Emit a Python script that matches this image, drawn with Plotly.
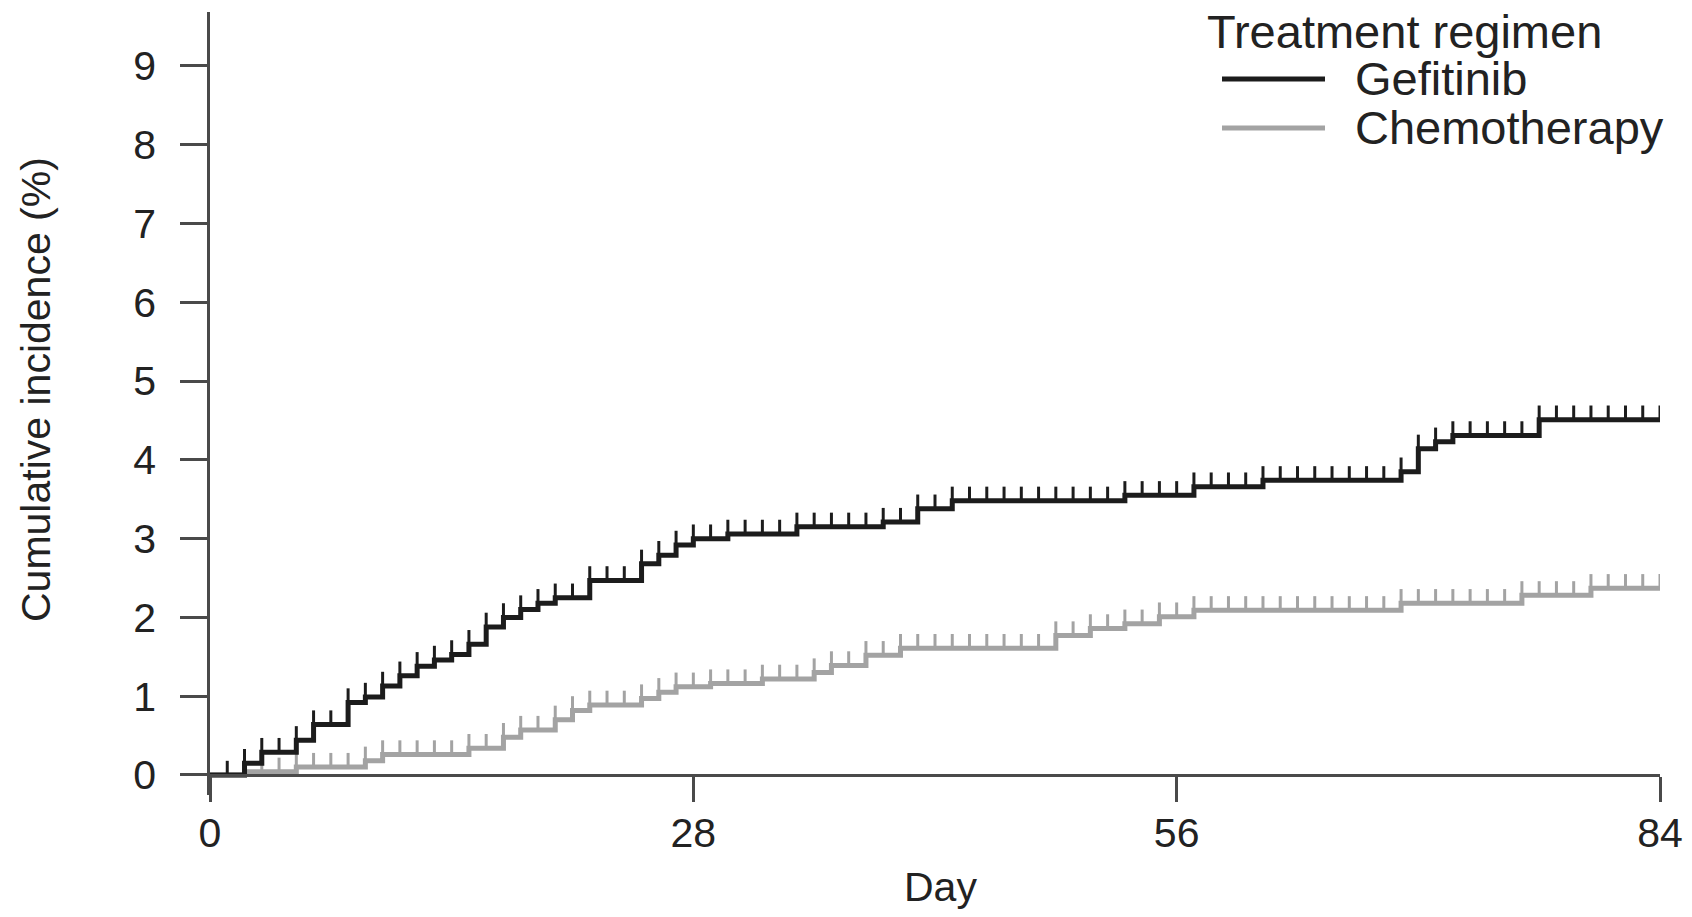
import plotly.graph_objects as go

# ---- data ----
gef_days = [0, 2, 3, 5, 6, 8, 9, 10, 11, 12, 13, 14, 15, 16, 17, 18, 19, 20, 22,
            25, 26, 27, 28, 30, 34, 39, 41, 43, 53, 57, 61, 69, 70, 71, 72, 77, 84]
gef_vals = [0.00, 0.15, 0.29, 0.44, 0.64, 0.92, 0.99, 1.13, 1.26, 1.38, 1.46, 1.53, 1.66, 1.88,
            2.00, 2.10, 2.18, 2.25, 2.47, 2.68, 2.79, 2.92, 3.00, 3.06, 3.15, 3.21, 3.38, 3.48,
            3.55, 3.66, 3.74, 3.85, 4.14, 4.23, 4.31, 4.51, 4.51]

chemo_days = [0, 2, 5, 9, 10, 15, 17, 18, 20, 21, 22, 25, 26, 27, 29, 32, 35, 36, 38, 40,
              49, 51, 53, 55, 57, 69, 76, 80, 84]
chemo_vals = [0.00, 0.04, 0.10, 0.18, 0.26, 0.34, 0.48, 0.57, 0.70, 0.82, 0.89, 0.97, 1.05,
              1.12, 1.16, 1.22, 1.30, 1.39, 1.52, 1.61, 1.77, 1.86, 1.92, 2.01, 2.09, 2.18,
              2.28, 2.37, 2.37]

# censoring marks (one per day)
gef_censor_days = list(range(1, 85))
chemo_censor_days = list(range(3, 85))

x_ticks = [0, 28, 56, 84]
y_ticks = [0, 1, 2, 3, 4, 5, 6, 7, 8, 9]

series_names = ["Gefitinib", "Chemotherapy"]
legend_title = "Treatment regimen"
x_title = "Day"
y_title = "Cumulative incidence (%)"

BLACK = "#1c1c1c"
GREY = "#a3a3a3"
FONT = "Liberation Sans, Arial, Helvetica, sans-serif"
MARK_H = 0.18


def level_at(days, vals, d):
    v = vals[0]
    for dd, vv in zip(days, vals):
        if dd <= d:
            v = vv
    return v


def censor_segments(days, vals, cdays):
    xs, ys = [], []
    for d in cdays:
        v = level_at(days, vals, d)
        xs += [d, d, None]
        ys += [v, v + MARK_H, None]
    return xs, ys


fig = go.Figure()
for name, days, vals, cdays, col in [
    (series_names[1], chemo_days, chemo_vals, chemo_censor_days, GREY),
    (series_names[0], gef_days, gef_vals, gef_censor_days, BLACK),
]:
    cx, cy = censor_segments(days, vals, cdays)
    fig.add_trace(go.Scatter(x=cx, y=cy, mode="lines", line=dict(color=col, width=3),
                             showlegend=False, hoverinfo="skip"))
    fig.add_trace(go.Scatter(x=days, y=vals, mode="lines", name=name,
                             line=dict(color=col, width=5, shape="hv"), showlegend=False))

# screen geometry (the page body adds an 8 px offset)
OFF = 8
W, H = 1692 - 2 * OFF, 917 - 2 * OFF
L, T = 210 - OFF, 12 - OFF
plot_right, plot_bottom = 1660 - OFF, 795 - OFF
R, B = W - plot_right, H - plot_bottom
pw, ph = W - L - R, H - T - B
y_lo, y_hi = -0.254, 9.685


def px_x(px):
    return (px - OFF - L) / pw


def px_y(py):
    return (plot_bottom - (py - OFF)) / ph


zero_pos = (0 - y_lo) / (y_hi - y_lo)

axis_col = "#4a4a4a"
fig.update_layout(
    width=W, height=H,
    margin=dict(l=L, r=R, t=T, b=B, pad=0, autoexpand=False),
    paper_bgcolor="white", plot_bgcolor="white",
    font=dict(family=FONT, size=40, color="#222222"),
    showlegend=False,
    xaxis=dict(range=[0, 84], anchor="free", position=zero_pos, automargin=False,
               showline=True, linecolor=axis_col, linewidth=2.5,
               ticks="outside", ticklen=25, tickwidth=2.5, tickcolor=axis_col,
               tickvals=x_ticks, ticktext=[str(t) for t in x_ticks],
               tickfont=dict(size=41), ticklabelstandoff=-4,
               showgrid=False, zeroline=False),
    yaxis=dict(range=[y_lo, y_hi], automargin=False,
               showline=True, linecolor=axis_col, linewidth=2.5,
               ticks="outside", ticklen=27, tickwidth=2.5, tickcolor=axis_col,
               tickvals=y_ticks, tickfont=dict(size=41), ticklabelstandoff=16,
               showgrid=False, zeroline=False),
)

# axis titles (placed to match the reference)
fig.add_annotation(x=px_x(36), y=px_y(390), xref="paper", yref="paper",
                   text=y_title, textangle=-90, showarrow=False,
                   xanchor="center", yanchor="middle", font=dict(size=41))
fig.add_annotation(x=px_x(940), y=px_y(887), xref="paper", yref="paper",
                   text=x_title, showarrow=False,
                   xanchor="center", yanchor="middle", font=dict(size=41))

# manual legend
fig.add_annotation(x=px_x(1205), y=px_y(31), xref="paper", yref="paper",
                   text=legend_title, showarrow=False, xanchor="left", yanchor="middle",
                   font=dict(size=47))
for i, (name, col) in enumerate([(series_names[0], BLACK), (series_names[1], GREY)]):
    yy = [79, 128][i]
    fig.add_shape(type="line", xref="paper", yref="paper",
                  x0=px_x(1222), x1=px_x(1325), y0=px_y(yy), y1=px_y(yy),
                  line=dict(color=col, width=5))
    fig.add_annotation(x=px_x(1353), y=px_y(yy - 1), xref="paper", yref="paper",
                       text=name, showarrow=False, xanchor="left", yanchor="middle",
                       font=dict(size=47))

fig.write_html("out.html")
